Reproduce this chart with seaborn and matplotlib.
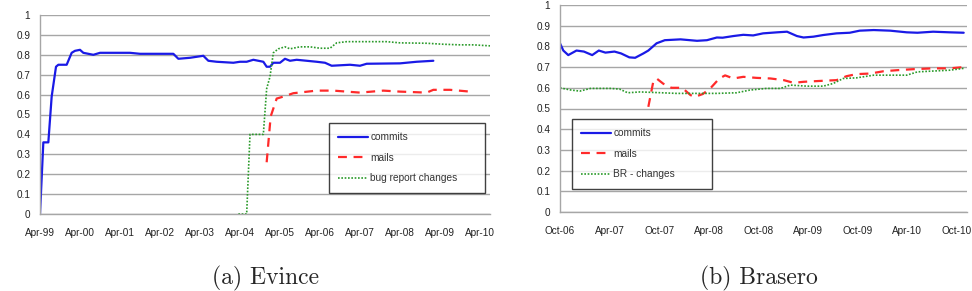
import matplotlib
matplotlib.use("Agg")
import matplotlib.pyplot as plt
import seaborn as sns

sns.set_style("white")
plt.rcParams['font.family'] = ['Liberation Sans', 'DejaVu Sans']

# ---------------- (a) Evince : x = months since Apr-99 ----------------
ev_commit_x = [0, 1, 1.5, 2.5, 3.5, 4.8, 5.5, 8, 9.5, 10.5, 12, 13, 16, 18, 21, 27, 30,
               40, 41.5, 45, 49, 50.5, 53, 58, 60, 62, 64, 67, 68, 69, 70, 72, 73.5,
               75, 77, 83, 85.5, 87.5, 93, 96, 98, 108, 113, 118]
ev_commit_y = [0, 0.36, 0.36, 0.36, 0.59, 0.74, 0.75, 0.75, 0.81, 0.82, 0.825, 0.81, 0.80,
               0.81, 0.81, 0.81, 0.805, 0.805, 0.78, 0.785, 0.795, 0.77, 0.765, 0.76,
               0.765, 0.765, 0.775, 0.765, 0.74, 0.74, 0.76, 0.76, 0.78, 0.77, 0.775,
               0.765, 0.76, 0.745, 0.75, 0.745, 0.755, 0.757, 0.765, 0.77]
ev_mail_x = [68, 69.2, 71, 73, 76, 83, 88, 96, 103, 108, 116, 118, 123, 129]
ev_mail_y = [0.26, 0.49, 0.58, 0.59, 0.607, 0.62, 0.62, 0.61, 0.62, 0.615, 0.61, 0.624,
             0.624, 0.615]
ev_bug_x = [59.5, 62, 63, 67, 68, 69, 70, 71.5, 73.5, 75, 78, 81, 84, 87, 89, 92, 98,
            104, 108, 116, 121, 126, 130, 135]
ev_bug_y = [0, 0, 0.40, 0.40, 0.63, 0.69, 0.81, 0.83, 0.84, 0.83, 0.84, 0.84, 0.833,
            0.833, 0.86, 0.866, 0.866, 0.866, 0.86, 0.858, 0.853, 0.85, 0.85, 0.845]
ev_tick_labels = ["Apr-99", "Apr-00", "Apr-01", "Apr-02", "Apr-03", "Apr-04", "Apr-05",
                  "Apr-06", "Apr-07", "Apr-08", "Apr-09", "Apr-10"]

# ---------------- (b) Brasero : x = months since Oct-06 ----------------
br_commit_x = [0, 0.4, 1, 2, 2.9, 3.9, 4.7, 5.5, 6.6, 7.4, 8.4, 9.1, 10.1, 10.7, 11.7,
               12.7, 14.6, 16.6, 17.8, 19.0, 19.7, 21.0, 22.2, 23.4, 24.6, 26.3, 27.5,
               28.7, 29.5, 30.7, 31.9, 33.5, 35.1, 36.3, 38.0, 40.0, 42.0, 43.3, 45.2,
               47.2, 48.9]
br_commit_y = [0.815, 0.78, 0.758, 0.78, 0.775, 0.758, 0.78, 0.77, 0.775, 0.766, 0.747,
               0.745, 0.766, 0.78, 0.815, 0.83, 0.834, 0.827, 0.83, 0.843, 0.842, 0.85,
               0.856, 0.853, 0.863, 0.868, 0.871, 0.85, 0.843, 0.847, 0.855, 0.863, 0.866,
               0.876, 0.879, 0.876, 0.868, 0.866, 0.871, 0.868, 0.866]
br_mail_x = [10.7, 11.3, 11.7, 12.5, 13.5, 14.8, 15.8, 16.3, 17.3, 18.2, 19.3, 20.0, 21.0,
             22.2, 23.8, 25.5, 27.1, 28.3, 29.5, 31.9, 33.5, 34.7, 35.9, 37.6, 39.2, 40.8,
             42.8, 45.2, 47.2, 48.9]
br_mail_y = [0.508, 0.63, 0.645, 0.62, 0.6, 0.6, 0.565, 0.556, 0.57, 0.597, 0.645, 0.66,
             0.645, 0.653, 0.648, 0.645, 0.637, 0.624, 0.629, 0.634, 0.637, 0.656, 0.666,
             0.669, 0.68, 0.685, 0.69, 0.694, 0.694, 0.70]
br_br_x = [0, 1.2, 2.4, 3.7, 6.1, 7.2, 8.2, 9.7, 11.7, 14.1, 16.6, 19.0, 21.4, 23.0, 25.0,
           26.7, 27.9, 29.9, 31.9, 33.1, 34.3, 35.9, 38.0, 40.0, 42.0, 43.3, 45.2, 47.2,
           48.9]
br_br_y = [0.6, 0.59, 0.584, 0.597, 0.597, 0.594, 0.576, 0.58, 0.577, 0.573, 0.573, 0.573,
           0.576, 0.589, 0.597, 0.597, 0.613, 0.608, 0.608, 0.621, 0.645, 0.648, 0.661,
           0.661, 0.661, 0.677, 0.681, 0.685, 0.694]
br_tick_labels = ["Oct-06", "Apr-07", "Oct-07", "Apr-08", "Oct-08", "Apr-09", "Oct-09",
                  "Apr-10", "Oct-10"]

y_ticks = [0, 0.1, 0.2, 0.3, 0.4, 0.5, 0.6, 0.7, 0.8, 0.9, 1]
y_labels = ["0", "0.1", "0.2", "0.3", "0.4", "0.5", "0.6", "0.7", "0.8", "0.9", "1"]

BLUE = "#1a1ae6"
RED = "#ff2a2a"
GREEN = "#2a9a2a"
GRID = "#a6a6a6"

fig = plt.figure(figsize=(9.72, 2.91), dpi=100)
ax1 = fig.add_axes([40 / 972, (291 - 214) / 291, 450 / 972, 199 / 291])
ax2 = fig.add_axes([560 / 972, (291 - 212) / 291, 407 / 972, 207 / 291])


def style(ax, xlim, ticks, labels):
    ax.set_xlim(*xlim)
    ax.set_ylim(0, 1)
    ax.set_yticks(y_ticks)
    ax.set_yticklabels(y_labels)
    ax.set_xticks(ticks)
    ax.set_xticklabels(labels)
    ax.grid(axis="y", color=GRID, linewidth=1.0)
    ax.set_axisbelow(True)
    for s in ["top", "right"]:
        ax.spines[s].set_visible(False)
    for s in ["left", "bottom"]:
        ax.spines[s].set_color(GRID)
        ax.spines[s].set_linewidth(1.0)
    ax.tick_params(axis="both", labelsize=7.2, colors="#222222", length=3, width=0.8,
                   direction="out")
    ax.tick_params(axis="x", pad=7)
    ax.tick_params(axis="y", pad=4)
    for t in ax.get_xticklines() + ax.get_yticklines():
        t.set_color(GRID)
    ax.set_xlabel("")
    ax.set_ylabel("")


sns.lineplot(x=ev_commit_x, y=ev_commit_y, ax=ax1, color=BLUE, linewidth=1.6, label="commits")
sns.lineplot(x=ev_mail_x, y=ev_mail_y, ax=ax1, color=RED, linewidth=1.6,
             linestyle=(0, (4, 3)), label="mails")
sns.lineplot(x=ev_bug_x, y=ev_bug_y, ax=ax1, color=GREEN, linewidth=1.2,
             linestyle=(0, (1, 1)), label="bug report changes")
style(ax1, (0, 135), [12 * i for i in range(len(ev_tick_labels))], ev_tick_labels)

sns.lineplot(x=br_commit_x, y=br_commit_y, ax=ax2, color=BLUE, linewidth=1.6, label="commits")
sns.lineplot(x=br_mail_x, y=br_mail_y, ax=ax2, color=RED, linewidth=1.6,
             linestyle=(0, (4, 3)), label="mails")
sns.lineplot(x=br_br_x, y=br_br_y, ax=ax2, color=GREEN, linewidth=1.2,
             linestyle=(0, (1, 1)), label="BR - changes")
style(ax2, (0, 49.3), [6 * i for i in range(len(br_tick_labels))], br_tick_labels)


def make_legend(ax, bbox):
    leg = ax.legend(loc="upper left", bbox_to_anchor=bbox, mode="expand", fontsize=7.3,
                    frameon=True, fancybox=False, edgecolor="#111111", borderpad=0.9,
                    labelspacing=1.05, handlelength=3.0, handletextpad=0.2,
                    borderaxespad=0)
    leg.get_frame().set_linewidth(1.0)
    for t in leg.get_texts():
        t.set_color("#333333")
    return leg


make_legend(ax1, (0.642, 0.146, 0.347, 0.311))
make_legend(ax2, (0.029, 0.13, 0.344, 0.319))

fig.text(266 / 972, 1 - 278 / 291, "(a) Evince", ha="center", va="center",
         fontsize=17, family="cmr10")
fig.text(759 / 972, 1 - 278 / 291, "(b) Brasero", ha="center", va="center",
         fontsize=17, family="cmr10")

fig.savefig("out.png", dpi=100)
